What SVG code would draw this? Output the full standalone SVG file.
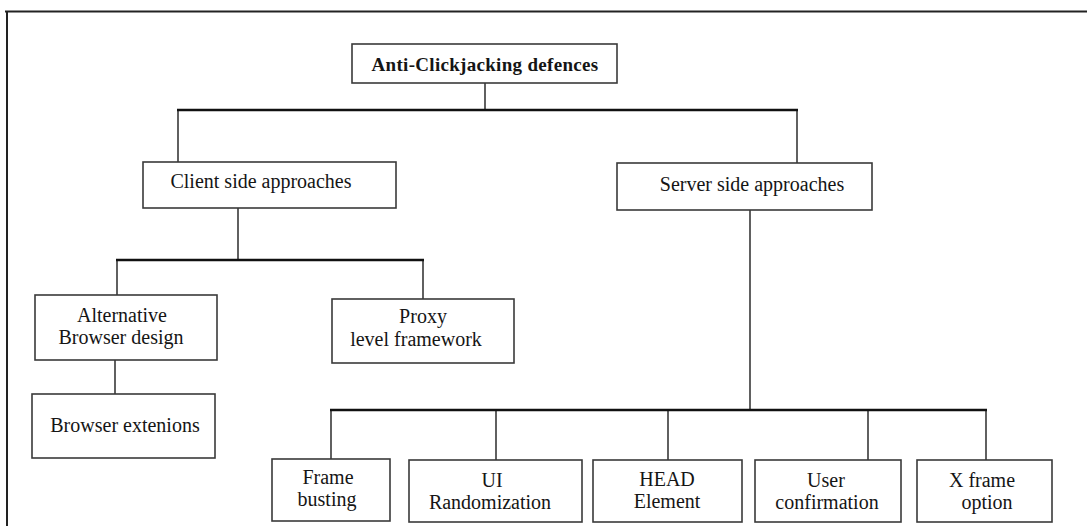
<svg xmlns="http://www.w3.org/2000/svg" width="1087" height="526" viewBox="0 0 1087 526">
<style>
.box{fill:#fff;stroke:#3a3a3a;stroke-width:1.6}
.t{font-family:"Liberation Serif","Times New Roman",serif;font-size:20px;fill:#151515;text-anchor:middle}
.b{font-weight:bold;font-size:19px;letter-spacing:0.3px}
.v{stroke:#3a3a3a;stroke-width:1.6;fill:none}
.h{stroke:#111;stroke-width:2.6;fill:none}
.frame{stroke:#222;stroke-width:2;fill:none}
</style>
<rect width="1087" height="526" fill="#fff"/>
<path class="frame" d="M5 11.5H1087M7 11V526"/>
<g id="connectors">
<path class="v" d="M485 83V110M178 110V162M797 110V163"/>
<path class="h" d="M177 110H798"/>
<path class="v" d="M238 208V260M117 260V295M423 260V299M115 360V394"/>
<path class="h" d="M116 260H424"/>
<path class="v" d="M750 210V410M331 410V459M496 410V460M668 410V460M868 410V460M986 410V460"/>
<path class="h" d="M330 410H987"/>
</g>
<g id="root"><rect class="box" x="352" y="44" width="265" height="39"/><text class="t b" x="485" y="71">Anti-Clickjacking defences</text></g>
<g id="client"><rect class="box" x="143" y="162" width="253" height="46"/><text class="t" x="261" y="188">Client side approaches</text></g>
<g id="server"><rect class="box" x="617" y="163" width="255" height="47"/><text class="t" x="752" y="191">Server side approaches</text></g>
<g id="alt"><rect class="box" x="35" y="295" width="182" height="65"/><text class="t" x="122" y="322">Alternative</text><text class="t" x="121" y="344">Browser design</text></g>
<g id="proxy"><rect class="box" x="332" y="299" width="182" height="64"/><text class="t" x="423" y="323">Proxy</text><text class="t" x="416" y="346">level framework</text></g>
<g id="ext"><rect class="box" x="32" y="394" width="183" height="64"/><text class="t" x="125" y="432">Browser extenions</text></g>
<g id="frame"><rect class="box" x="272" y="459" width="118" height="62"/><text class="t" x="328" y="484">Frame</text><text class="t" x="327" y="506">busting</text></g>
<g id="ui"><rect class="box" x="409" y="460" width="173" height="62"/><text class="t" x="492" y="487">UI</text><text class="t" x="490" y="509">Randomization</text></g>
<g id="head"><rect class="box" x="593" y="460" width="149" height="62"/><text class="t" x="667" y="486">HEAD</text><text class="t" x="667" y="508">Element</text></g>
<g id="user"><rect class="box" x="755" y="460" width="146" height="62"/><text class="t" x="826" y="487">User</text><text class="t" x="827" y="509">confirmation</text></g>
<g id="xframe"><rect class="box" x="917" y="460" width="135" height="62"/><text class="t" x="982" y="487">X frame</text><text class="t" x="987" y="509">option</text></g>
</svg>
